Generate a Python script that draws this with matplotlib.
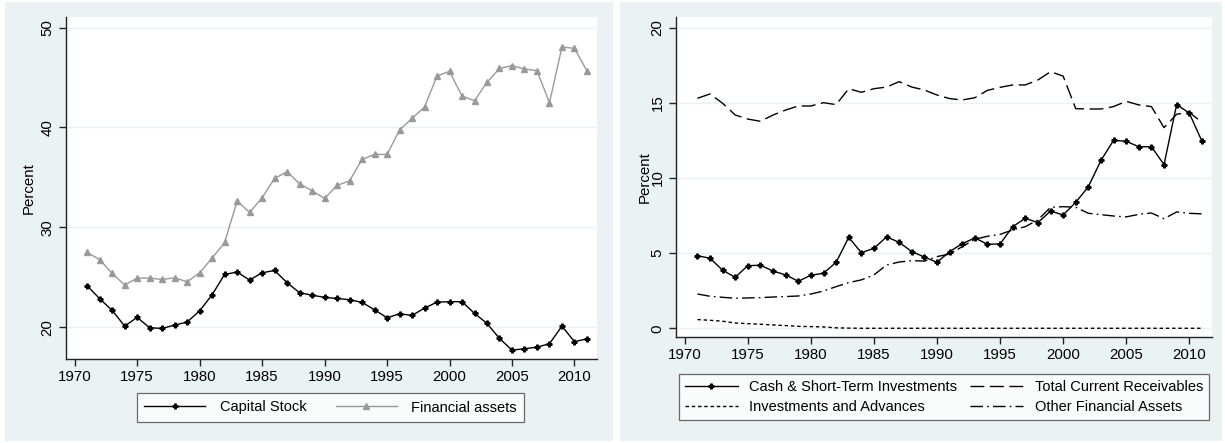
import matplotlib
matplotlib.use('Agg')
import matplotlib.pyplot as plt
from matplotlib.patches import Rectangle
import numpy as np

plt.rcParams['font.family'] = ['Liberation Sans', 'DejaVu Sans']

years = np.arange(1971, 2012)

# left panel
capital_stock = [24.14, 22.84, 21.67, 20.10, 20.97, 19.93, 19.86, 20.20, 20.50, 21.63,
                 23.24, 25.28, 25.51, 24.71, 25.44, 25.67, 24.44, 23.44, 23.20, 22.97,
                 22.87, 22.74, 22.47, 21.73, 20.93, 21.33, 21.17, 21.90, 22.50, 22.54,
                 22.54, 21.37, 20.36, 18.86, 17.69, 17.83, 17.99, 18.33, 20.10, 18.53,
                 18.83]
financial_assets = [27.48, 26.75, 25.38, 24.21, 24.91, 24.91, 24.77, 24.94, 24.54, 25.44,
                    26.91, 28.48, 32.63, 31.49, 32.96, 34.90, 35.57, 34.36, 33.66, 32.89,
                    34.20, 34.66, 36.80, 37.30, 37.30, 39.74, 40.91, 42.05, 45.16, 45.62,
                    43.15, 42.68, 44.52, 45.92, 46.19, 45.86, 45.69, 42.48, 48.06, 47.93,
                    45.66]

# right panel
cash_st = [4.83, 4.66, 3.86, 3.39, 4.17, 4.19, 3.81, 3.55, 3.13, 3.53,
           3.66, 4.39, 6.05, 5.03, 5.32, 6.08, 5.72, 5.10, 4.74, 4.39,
           5.10, 5.63, 6.01, 5.59, 5.61, 6.76, 7.32, 7.03, 7.80, 7.54,
           8.38, 9.42, 11.17, 12.51, 12.44, 12.08, 12.08, 10.89, 14.88, 14.32,
           12.46]
receivables = [15.30, 15.59, 14.97, 14.19, 13.92, 13.77, 14.19, 14.52, 14.79, 14.79,
               15.01, 14.88, 15.94, 15.70, 15.94, 16.05, 16.41, 16.05, 15.85, 15.52,
               15.28, 15.19, 15.34, 15.83, 16.03, 16.19, 16.19, 16.52, 17.07, 16.78,
               14.61, 14.59, 14.59, 14.75, 15.10, 14.86, 14.75, 13.35, 14.24, 14.37,
               13.70]
inv_adv = [0.58, 0.53, 0.47, 0.35, 0.31, 0.27, 0.22, 0.18, 0.13, 0.11,
           0.09, 0.03, 0.01, 0.0, 0.0, 0.0, 0.0, 0.0, 0.0, 0.0,
           0.0, 0.0, 0.0, 0.0, 0.0, 0.0, 0.0, 0.0, 0.0, 0.0,
           0.0, 0.0, 0.0, 0.0, 0.0, 0.0, 0.0, 0.0, 0.0, 0.0,
           0.0]
other_fin = [2.28, 2.13, 2.06, 2.00, 2.02, 2.04, 2.08, 2.11, 2.15, 2.28,
             2.48, 2.77, 3.04, 3.22, 3.55, 4.21, 4.41, 4.50, 4.47, 4.77,
             4.94, 5.43, 5.92, 6.12, 6.25, 6.54, 6.76, 7.21, 8.05, 8.09,
             8.05, 7.65, 7.56, 7.47, 7.41, 7.58, 7.67, 7.29, 7.74, 7.65,
             7.61]

bg = '#eaf2f3'
W, H = 1225, 443
fig = plt.figure(figsize=(W / 100, H / 100), dpi=100)
fig.patch.set_facecolor('white')
fig.add_artist(Rectangle((5 / W, 2 / H), 608 / W, 439 / H, transform=fig.transFigure,
                         facecolor=bg, edgecolor='none', zorder=-10))
fig.add_artist(Rectangle((620 / W, 2 / H), 602 / W, 439 / H, transform=fig.transFigure,
                         facecolor=bg, edgecolor='none', zorder=-10))

axA = fig.add_axes([65.7 / W, 1 - 359 / H, 531 / W, 342 / H])
axB = fig.add_axes([675.7 / W, 1 - 337 / H, 536 / W, 320 / H])


def style(ax, yticks):
    ax.set_facecolor('white')
    for s in ['top', 'right']:
        ax.spines[s].set_visible(False)
    for s in ['left', 'bottom']:
        ax.spines[s].set_color('#222222')
        ax.spines[s].set_linewidth(1.0)
    ax.set_xticks(np.arange(1970, 2011, 5))
    ax.set_yticks(yticks)
    ax.set_yticklabels([str(v) for v in yticks], rotation=90, va='center')
    ax.tick_params(axis='both', length=5, width=1.0, color='#222222', labelsize=10.8, pad=3)
    ax.yaxis.grid(True, color=bg, lw=1.0)
    ax.set_axisbelow(True)
    ax.set_xlim(1969.28, 2011.78)
    ax.set_ylabel('Percent', fontsize=10.8)


# Left
lA1, = axA.plot(years, capital_stock, color='black', lw=1.0, marker='P', ms=3.5, label='Capital Stock')
lA2, = axA.plot(years, financial_assets, color='#999999', lw=1.0, marker='^', ms=5,
                markeredgecolor='#999999', label='Financial assets')
style(axA, [20, 30, 40, 50])
axA.set_ylim(16.8, 51.07)
axA.yaxis.set_label_coords(-0.056, 0.5)
legA = fig.legend(handles=[lA1, lA2], loc='center', bbox_to_anchor=(330.5 / W, 1 - 407.5 / H),
                  ncol=2, fontsize=10.5, handlelength=4.2, handletextpad=1.0, columnspacing=2.0,
                  frameon=True, fancybox=False, edgecolor='#444444', borderpad=0.5)
legA.get_frame().set_linewidth(0.9)

# Right
lB1, = axB.plot(years, cash_st, color='black', lw=1.0, marker='P', ms=3.5,
                label='Cash & Short-Term Investments')
lB2, = axB.plot(years, receivables, color='black', lw=1.0, dashes=(10, 4),
                label='Total Current Receivables')
lB3, = axB.plot(years, inv_adv, color='black', lw=1.0, dashes=(2.5, 2),
                label='Investments and Advances')
lB4, = axB.plot(years, other_fin, color='black', lw=1.0, dashes=(9, 3, 1.2, 3),
                label='Other Financial Assets')
style(axB, [0, 5, 10, 15, 20])
axB.set_ylim(-0.58, 20.71)
axB.yaxis.set_label_coords(-0.045, 0.5)
legB = fig.legend(handles=[lB1, lB3, lB2, lB4], loc='center', bbox_to_anchor=(944 / W, 1 - 397 / H),
                  ncol=2, fontsize=10.5, handlelength=3.6, handletextpad=0.8, columnspacing=0.9,
                  frameon=True, fancybox=False, edgecolor='#444444', borderpad=0.45, labelspacing=0.4)
legB.get_frame().set_linewidth(0.9)

fig.savefig('out.png', dpi=100, facecolor='white')
